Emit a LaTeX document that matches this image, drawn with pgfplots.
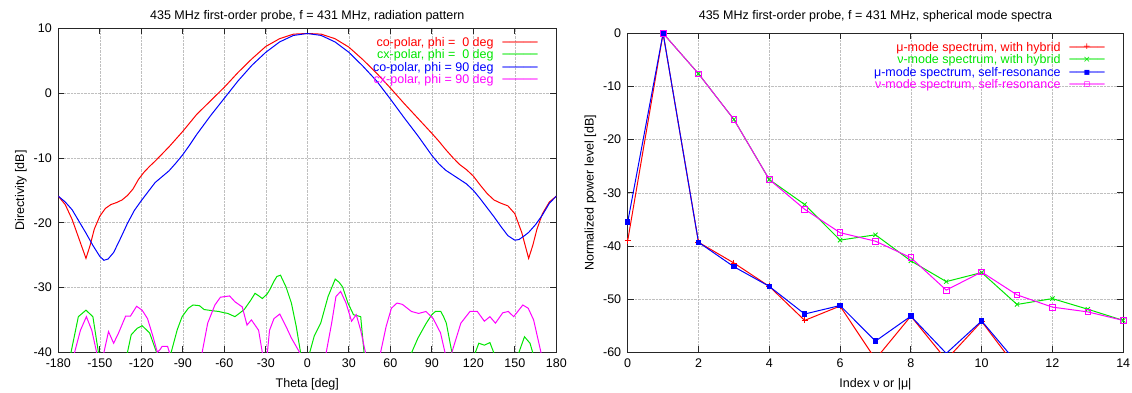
\documentclass[border=0pt]{standalone}
\usepackage{pgfplots}
\pgfplotsset{compat=1.18}
\usepackage{fontspec}
\setmainfont{Liberation Sans}
\newfontfamily\dejavu{DejaVu Sans}
\definecolor{gpred}{RGB}{255,0,0}
\definecolor{gpgreen}{RGB}{0,230,0}
\definecolor{gpblue}{RGB}{0,0,255}
\definecolor{gpmag}{RGB}{255,0,255}
% legend samples built from coloured glyphs
\newcommand{\sline}{{\dejavu\fontsize{11.63}{12}\selectfont ─────}}
\newcommand{\mplus}{\raisebox{1.1pt}{\dejavu\fontsize{9}{9}\selectfont +}}
\newcommand{\mcross}{\raisebox{1.1pt}{\dejavu\fontsize{9}{9}\selectfont ×}}
\newcommand{\mfsq}{\raisebox{0.8pt}{\dejavu\fontsize{10}{10}\selectfont ▪}}
\newcommand{\mesq}{\raisebox{0.6pt}{\dejavu\fontsize{11}{11}\selectfont ▫}}
\newcommand{\samp}[1]{\hspace{9pt}\rlap{\sline}\hspace{17.5pt}\makebox[0pt]{#1}\hspace{17.5pt}}
\pgfplotstableread{
th db
-180 -15.9
-175 -17.2
-170 -19.5
-165 -22.5
-160 -25.5
-157 -23.5
-154 -21
-150 -19
-146 -17.8
-142 -17.2
-138 -16.9
-134 -16.5
-130 -15.8
-126 -14.8
-122 -13.3
-118 -12.2
-114 -11.3
-110 -10.5
-105 -9.4
-100 -8.3
-90 -5.9
-80 -3.3
-70 -1.2
-60 0.9
-50 3.2
-40 5.3
-30 7.2
-20 8.4
-10 9.1
0 9.2
10 9.1
20 8.4
30 7.1
40 5.2
50 3.1
60 0.8
70 -1.6
80 -3.9
90 -6.2
95 -7.4
100 -8.7
105 -9.9
110 -11.0
115 -11.8
120 -12.8
125 -14.2
130 -15.5
135 -16.5
140 -17.0
145 -17.4
150 -18.6
155 -21.5
160 -25.5
163 -23.5
166 -21
170 -18.6
175 -16.8
180 -15.9
}\copolzero
\pgfplotstableread{
th db
-180 -15.9
-175 -16.8
-170 -18
-165 -19.8
-160 -21.6
-155 -23.5
-150 -25.2
-147 -25.8
-144 -25.6
-140 -24.6
-135 -22.4
-130 -20.1
-125 -18.1
-120 -16.6
-115 -15.2
-110 -13.8
-105 -12.9
-100 -12.0
-95 -10.8
-90 -9.5
-85 -8.0
-80 -6.4
-70 -3.5
-60 -0.8
-50 1.9
-40 4.3
-30 6.3
-20 7.9
-10 8.9
0 9.2
10 8.9
20 7.9
30 6.3
40 4.2
50 1.9
60 -0.9
70 -3.8
80 -6.6
90 -9.6
95 -10.9
100 -11.9
105 -12.6
110 -13.3
115 -14.0
120 -15.0
125 -16.3
130 -17.7
135 -19.1
140 -20.6
145 -22.0
150 -22.7
153 -22.6
157 -22.0
160 -21.5
165 -20.3
170 -18.8
175 -17.0
180 -15.9
}\copolninety
\pgfplotstableread{
th db
-180 -46
-175 -46
-170.8 -40
-165.5 -34.5
-160 -33.5
-155 -34.5
-151 -40
-147 -46
-140 -48
-133 -46
-130 -40
-127.3 -37.3
-123 -36.3
-119.4 -35.9
-114 -37
-109 -40
-105 -47
-101 -46
-98.4 -40
-94 -36.5
-90.5 -34.5
-86 -33.2
-82.6 -32.7
-78 -32.8
-74.6 -33.4
-68 -33.6
-64 -33.7
-60 -33.9
-57.5 -34.0
-52.3 -34.5
-48 -33.8
-45.6 -33.4
-41 -32
-37.8 -30.9
-35 -31.3
-32.5 -31.7
-29 -31
-27.3 -30.4
-24 -29
-22 -28.3
-19.4 -28.1
-15.4 -29.9
-11.5 -32.4
-8 -36
-4.9 -40
-2 -47
0 -48
1.8 -40
5 -37.5
9.7 -35.5
15 -31.4
20.2 -28.7
23 -29.2
25.5 -29.9
29.4 -32.4
33.4 -34.2
38.6 -34.5
41 -40
44 -47
60 -50
72 -46
75.5 -40
80 -37.8
86 -35.5
90 -34.2
92.6 -33.7
96.5 -33.7
98.5 -34.5
100.5 -35.5
104.5 -40
108 -46
118 -46
121.5 -40
124 -38.6
128 -38.9
132 -38.5
134.7 -40
138 -46
150 -46
153 -40
157 -37.6
161 -38.6
162.9 -40
166 -46
180 -46
}\cxpolzero
\pgfplotstableread{
th db
-180 -46
-171 -46
-168.2 -40
-164 -36.6
-159.7 -34.5
-155.8 -36.6
-152.3 -40
-150 -44
-147 -40
-143.7 -36.8
-140 -38.6
-136.6 -37.1
-131.3 -34.4
-127.8 -34.4
-123.4 -32.9
-119.4 -33.5
-115.5 -34.8
-111.5 -37.6
-108.4 -40
-106.5 -39.6
-105 -39.1
-101 -39.1
-99.7 -40
-97 -46
-80 -46
-76 -40
-72 -35.5
-66.8 -32.7
-62.8 -31.5
-56.2 -31.3
-52.3 -32.2
-47 -33
-43.6 -35.8
-40.4 -35
-35.2 -36.6
-30.2 -43
-27.3 -36.6
-24.1 -34.8
-19.9 -34.1
-15.4 -36
-11.5 -37.8
-5.6 -40
-2 -46
10 -46
13.7 -40
17.6 -35.5
20.7 -31.4
24.1 -30.6
28 -32.4
32 -35.2
35.4 -34.2
38.6 -36.6
42 -40
45 -46
50 -46
53 -40
57 -36
60.8 -33.2
64.8 -32.4
68.7 -32.6
75.3 -33.7
80.5 -34
85.8 -33.7
91 -34.8
96.3 -37
99.5 -40
102 -43
104.5 -40
111 -35.5
117.6 -33.7
122.9 -33.7
128 -35.2
132 -34.5
136 -35.5
141.3 -33.9
145.3 -33.7
149.2 -34.5
155.8 -32.7
159.7 -33.2
163.6 -35
168.9 -40
172 -46
180 -46
}\cxpolninety
\pgfplotstableread{
n db
0 -39
1 0
2 -39.3
3 -43.2
4 -47.6
5 -54
6 -51.3
7 -61.3
8 -53.2
9 -61.4
10 -54.2
11 -63
}\muhyb
\pgfplotstableread{
n db
1 0
2 -7.6
3 -16.2
4 -27.5
5 -32.2
6 -38.9
7 -37.9
8 -42.8
9 -46.7
10 -45
11 -51
12 -49.9
13 -51.9
14 -54
}\nuhyb
\pgfplotstableread{
n db
0 -35.5
1 0
2 -39.3
3 -43.9
4 -47.6
5 -52.8
6 -51.2
7 -57.9
8 -53.2
9 -60.2
10 -54.1
11 -62
}\muself
\pgfplotstableread{
n db
1 0
2 -7.6
3 -16.2
4 -27.5
5 -33.1
6 -37.5
7 -39.1
8 -42.2
9 -48.3
10 -44.9
11 -49.2
12 -51.5
13 -52.4
14 -54
}\nuself
\pgfplotsset{
  gpaxis/.style={
    scale only axis,
    anchor=south west,
    axis line style={line width=0.8pt, black!85},
    tick style={line width=0.8pt, black!85},
    major tick length=6pt,
    grid=major,
    major grid style={densely dotted, gray!50, line width=0.5pt},
    /pgf/number format/assume math mode=true,
    yticklabel style={xshift=-3pt},
    xticklabel style={yshift=-3pt},
    xlabel style={yshift=-4pt},
    legend style={at={(rel axis cs:1,1)}, anchor=north east, draw=none, fill=none,
      xshift=-15pt, yshift=-6pt,
      nodes={inner sep=0.5pt, text height=9pt, text depth=2.5pt},
      row sep=0pt},
    legend cell align=right,
    legend plot pos=none,
    every axis plot/.append style={line width=1pt},
  }
}
\begin{document}
\begin{tikzpicture}[x=1pt,y=1pt,font=\fontsize{12.5}{15}\selectfont]
\useasboundingbox (0,0) rectangle (1132,392);
\begin{axis}[gpaxis,
  at={(58.3pt,39.7pt)}, width=498pt, height=324pt,
  xmin=-180, xmax=180, ymin=-40, ymax=10,
  xtick={-180,-150,...,180}, ytick={-40,-30,...,10},
  title style={yshift=-3pt},
  title={435 MHz first-order probe, f = 431 MHz, radiation pattern},
  xlabel={Theta [deg]}, ylabel={Directivity [dB]},
]
\addplot[draw=gpred, no marks] table[x=th,y=db]{\copolzero};
\addlegendentry{\textcolor{gpred}{co-polar, phi =\ \ 0 deg\samp{}}}
\addplot[draw=gpgreen, no marks] table[x=th,y=db]{\cxpolzero};
\addlegendentry{\textcolor{gpgreen}{cx-polar, phi =\ \ 0 deg\samp{}}}
\addplot[draw=gpblue, no marks] table[x=th,y=db]{\copolninety};
\addlegendentry{\textcolor{gpblue}{co-polar, phi = 90 deg\samp{}}}
\addplot[draw=gpmag, no marks] table[x=th,y=db]{\cxpolninety};
\addlegendentry{\textcolor{gpmag}{cx-polar, phi = 90 deg\samp{}}}
\end{axis}
\begin{axis}[gpaxis,
  at={(627.7pt,39.7pt)}, width=495.5pt, height=319pt,
  xmin=0, xmax=14, ymin=-60, ymax=0,
  xtick={0,2,...,14}, ytick={-60,-50,...,0},
  title style={yshift=2pt},
  title={435 MHz first-order probe, f = 431 MHz, spherical mode spectra},
  xlabel={Index ν or |μ|}, ylabel={Normalized power level [dB]},
]
\addplot[draw=gpred, mark=+, mark size=3pt, mark options={solid,line width=0.8pt,draw=gpred}] table[x=n,y=db]{\muhyb};
\addlegendentry{\textcolor{gpred}{μ-mode spectrum, with hybrid\samp{\mplus}}}
\addplot[draw=gpgreen, mark=x, mark size=3pt, mark options={solid,line width=0.8pt,draw=gpgreen}] table[x=n,y=db]{\nuhyb};
\addlegendentry{\textcolor{gpgreen}{ν-mode spectrum, with hybrid\samp{\mcross}}}
\addplot[draw=gpblue, mark=square*, mark size=2.2pt, mark options={solid,draw=gpblue,fill=gpblue}] table[x=n,y=db]{\muself};
\addlegendentry{\textcolor{gpblue}{μ-mode spectrum, self-resonance\samp{\mfsq}}}
\addplot[draw=gpmag, mark=square, mark size=2.8pt, mark options={solid,line width=0.8pt,draw=gpmag}] table[x=n,y=db]{\nuself};
\addlegendentry{\textcolor{gpmag}{ν-mode spectrum, self-resonance\samp{\mesq}}}
\end{axis}
\end{tikzpicture}
\end{document}
